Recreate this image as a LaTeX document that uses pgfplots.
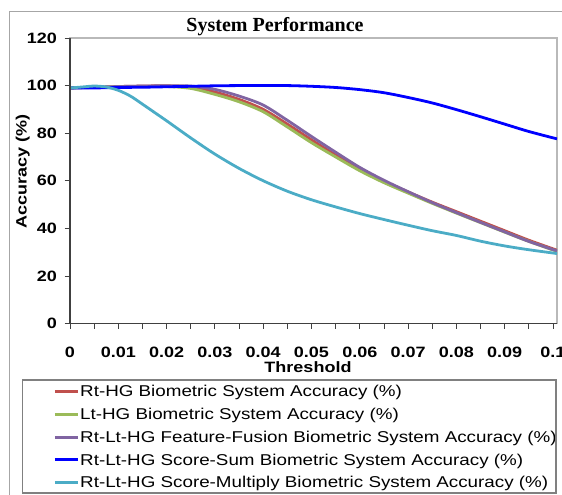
\documentclass[border=0pt]{standalone}
\usepackage{fontspec}
\setmainfont{Liberation Sans}[FakeStretch=1.2]
\newfontfamily\titlefont{Liberation Serif}
\usepackage{pgfplots}
\pgfplotsset{compat=1.18}
\usepackage{pgfplotstable}

\definecolor{xlred}{HTML}{C0504D}
\definecolor{xlgreen}{HTML}{9BBB59}
\definecolor{xlpurple}{HTML}{8064A2}
\definecolor{xlblue}{HTML}{0000FF}
\definecolor{xlcyan}{HTML}{4BACC6}

% threshold vs accuracy
\pgfplotstableread{
x       rt    lt    ff    sum
0       99.0  99.0  99.0  99.0
0.005   99.3  99.2  99.3  99.0
0.01    99.6  99.5  99.6  99.2
0.015   99.8  99.6  99.8  99.3
0.02    99.9  99.6  99.9  99.5
0.025   99.4  98.8  99.8  99.7
0.03    97.3  96.3  98.4  99.9
0.035   94.2  93.2  95.6  100
0.04    90.0  89.0  91.8  100
0.045   83.8  82.6  85.4  100
0.05    77.2  76.0  78.6  99.7
0.055   70.8  70.0  72.0  99.2
0.06    64.8  64.2  65.6  98.3
0.065   59.8  59.2  60.2  97.0
0.07    55.3  54.8  55.4  95.0
0.075   51.0  50.5  50.8  92.7
0.08    47.0  46.4  46.6  89.9
0.085   43.0  42.4  42.5  86.9
0.09    39.0  38.4  38.5  83.8
0.095   35.0  34.5  34.5  80.7
0.10083 30.8  30.3  30.5  77.6
}\maindata

\pgfplotstableread{
x       mul
0       99.0
0.0025  99.4
0.005   99.8
0.0075  99.4
0.01    98.0
0.0125  95.6
0.015   92.2
0.0175  88.7
0.02    85.2
0.025   78.0
0.03    71.2
0.035   65.2
0.04    60.0
0.045   55.6
0.05    52.0
0.055   49.0
0.06    46.2
0.065   43.7
0.07    41.3
0.075   39.0
0.08    37.0
0.085   34.6
0.09    32.6
0.095   31.0
0.10083 29.4
}\muldata

\begin{document}
\begin{tikzpicture}
\useasboundingbox (0,0) rectangle (421.5pt,371.25pt);
\begin{scope}
  \clip (0,0) rectangle (421.5pt,371.25pt);
  \draw[gray!70, line width=0.8pt] (7pt,-20pt) rectangle (460pt,362.5pt);
\end{scope}

\begin{axis}[
    at={(52.5pt,128.625pt)}, anchor=south west,
    scale only axis,
    width=365.25pt, height=214.125pt,
    xmin=0, xmax=0.10083,
    ymin=0, ymax=120,
    xtick={0,0.01,0.02,0.03,0.04,0.05,0.06,0.07,0.08,0.09,0.1},
    xticklabels={0,0.01,0.02,0.03,0.04,0.05,0.06,0.07,0.08,0.09,0.1},
    minor xtick={0.005,0.015,0.025,0.035,0.045,0.055,0.065,0.075,0.085,0.095},
    ytick={0,20,40,60,80,100,120},
    scaled x ticks=false, scaled y ticks=false,
    /pgf/number format/assume math mode=true,
    tick align=outside,
    xtick pos=bottom, ytick pos=left,
    major tick length=4pt, minor tick length=4pt,
    tick style={black!75, line width=0.6pt},
    axis line style={gray!55, line width=0.8pt},
    ticklabel style={font=\bfseries\fontsize{11.25}{13}\selectfont},
    xticklabel style={yshift=-10pt},
    yticklabel style={xshift=-2.25pt},
    title={\titlefont\bfseries\fontsize{15}{17}\selectfont System Performance},
    title style={at={(axis description cs:0.421,1.021)}, anchor=base, yshift=-5.5pt},
    xlabel={Threshold},
    xlabel style={at={(axis description cs:0.4887,-0.1699)}, anchor=base,
                  font=\bfseries\fontsize{11.25}{13}\selectfont},
    ylabel={Accuracy (\%)},
    ylabel style={at={(axis description cs:-0.0971,0.5317)}, anchor=center,
                  font=\bfseries\fontsize{11.25}{13}\selectfont},
    legend cell align=left,
    legend image code/.code={\draw[#1,line width=2.2pt] (0pt,0pt) -- (17.5pt,0pt);},
    legend style={at={(axis description cs:-0.0343,-0.2084)}, anchor=north west,
                  draw=none, fill=none, inner sep=0pt, outer sep=0pt,
                  row sep=4.06pt, column sep=0pt,
                  nodes={inner sep=0.5pt, text height=10pt, text depth=2pt},
                  font=\fontsize{11.75}{13}\selectfont},
    every axis plot/.append style={line width=2.1pt, smooth, no markers},
]
\addplot[xlred]    table[x=x, y=rt]  {\maindata};
\addlegendentry{Rt-HG Biometric System Accuracy (\%)}
\addplot[xlgreen]  table[x=x, y=lt]  {\maindata};
\addlegendentry{Lt-HG Biometric System Accuracy (\%)}
\addplot[xlpurple] table[x=x, y=ff]  {\maindata};
\addlegendentry{Rt-Lt-HG Feature-Fusion Biometric System Accuracy (\%)}
\addplot[xlblue]   table[x=x, y=sum] {\maindata};
\addlegendentry{Rt-Lt-HG Score-Sum Biometric System Accuracy (\%)}
\addplot[xlcyan]   table[x=x, y=mul] {\muldata};
\addlegendentry{Rt-Lt-HG Score-Multiply Biometric System Accuracy (\%)}
\end{axis}

% darker left and bottom axis lines, legend frame
\draw[black!75, line width=0.8pt] (52.5pt,342.75pt) -- (52.5pt,128.625pt) -- (417.75pt,128.625pt);
\draw[gray, line width=0.8pt] ({22.7*0.75pt},{(495-380)*0.75pt}) rectangle ({556*0.75pt},{(495-493)*0.75pt});
\end{tikzpicture}
\end{document}
